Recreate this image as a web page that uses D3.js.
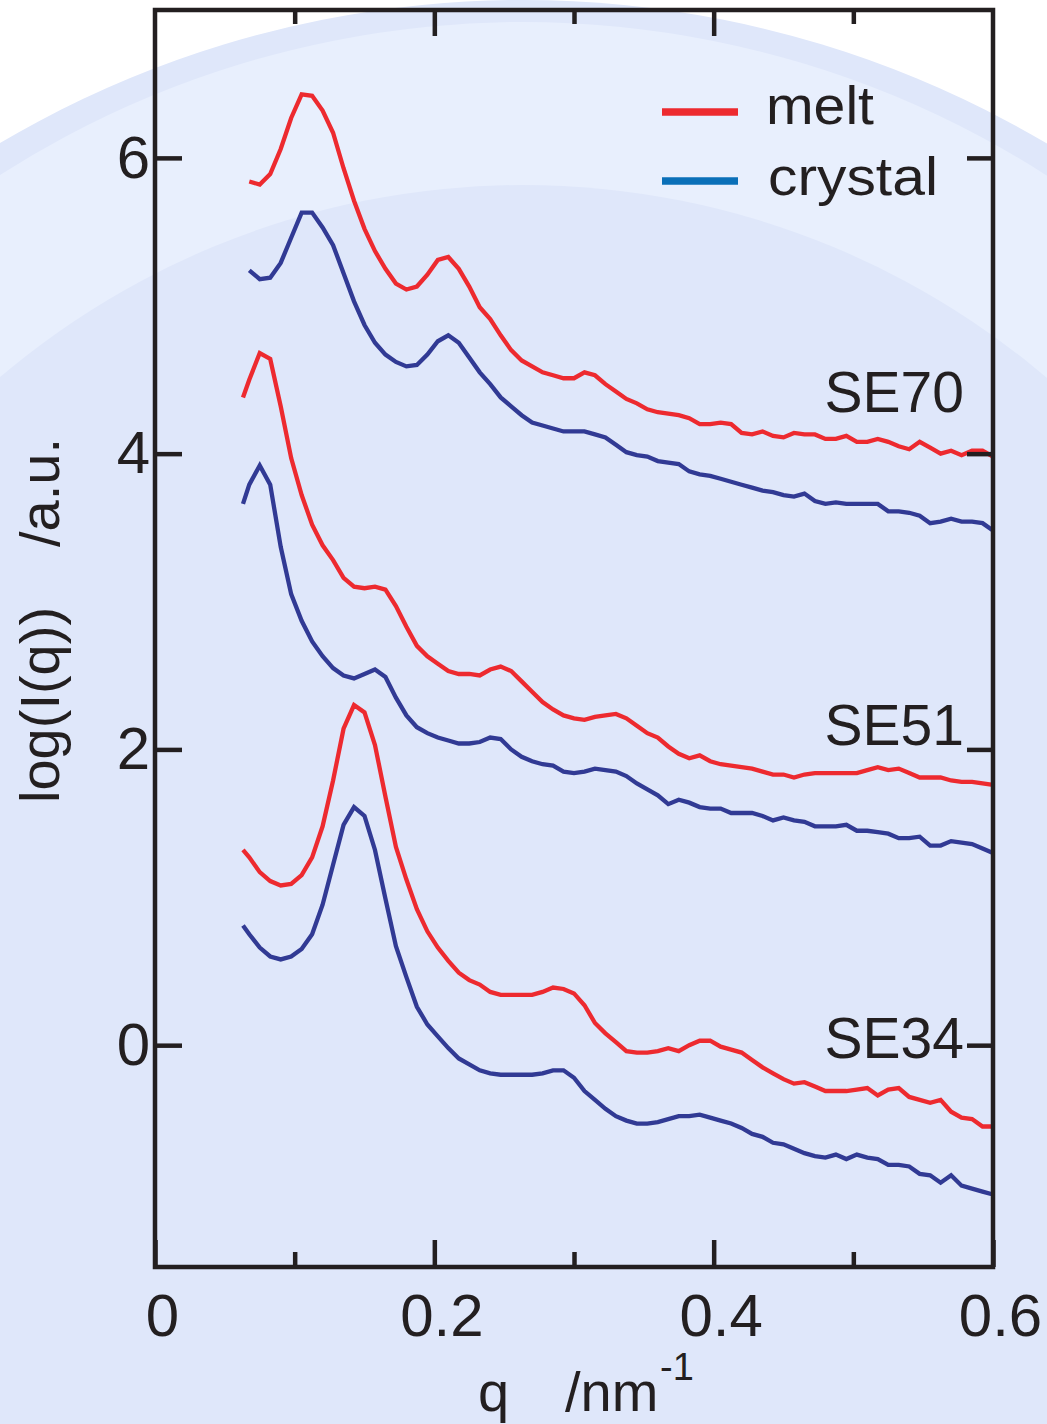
<!DOCTYPE html>
<html>
<head>
<meta charset="utf-8">
<script src="https://cdn.jsdelivr.net/npm/d3@7"></script>
<style>
  html, body { margin: 0; padding: 0; background: #ffffff; }
  svg { display: block; }
  text { font-family: "Liberation Sans", Arial, sans-serif; fill: #231f20; }
</style>
</head>
<body>
<script>
// ---------------- data ----------------
const qValues = [
  0.0630, 0.0675, 0.0750, 0.0825, 0.0900, 0.0975, 0.1050, 0.1125, 0.1200, 0.1275,
  0.1350, 0.1425, 0.1500, 0.1575, 0.1650, 0.1725, 0.1800, 0.1875, 0.1950, 0.2025,
  0.2100, 0.2175, 0.2250, 0.2325, 0.2400, 0.2475, 0.2550, 0.2625, 0.2700, 0.2775,
  0.2850, 0.2925, 0.3000, 0.3075, 0.3150, 0.3225, 0.3300, 0.3375, 0.3450, 0.3525,
  0.3600, 0.3675, 0.3750, 0.3825, 0.3900, 0.3975, 0.4050, 0.4125, 0.4200, 0.4275,
  0.4350, 0.4425, 0.4500, 0.4575, 0.4650, 0.4725, 0.4800, 0.4875, 0.4950, 0.5025,
  0.5100, 0.5175, 0.5250, 0.5325, 0.5400, 0.5475, 0.5550, 0.5625, 0.5700, 0.5775,
  0.5850, 0.5925, 0.6000
];

const se70Melt = [
  null, 5.84, 5.82, 5.89, 6.06, 6.27, 6.43, 6.42, 6.32, 6.17,
  5.93, 5.71, 5.52, 5.37, 5.25, 5.15, 5.11, 5.13, 5.21, 5.31,
  5.33, 5.25, 5.13, 4.99, 4.91, 4.80, 4.70, 4.63, 4.59, 4.55,
  4.53, 4.51, 4.51, 4.55, 4.53, 4.47, 4.42, 4.37, 4.34, 4.30,
  4.28, 4.27, 4.26, 4.24, 4.20, 4.20, 4.21, 4.20, 4.14, 4.13,
  4.15, 4.12, 4.11, 4.14, 4.13, 4.13, 4.10, 4.10, 4.12, 4.08,
  4.08, 4.10, 4.08, 4.05, 4.03, 4.08, 4.04, 4.00, 4.02, 3.99,
  4.02, 4.02, 3.98
];
const se70Crystal = [
  null, 5.24, 5.18, 5.19, 5.29, 5.46, 5.63, 5.63, 5.53, 5.41,
  5.22, 5.03, 4.87, 4.75, 4.67, 4.62, 4.59, 4.60, 4.67, 4.76,
  4.80, 4.75, 4.65, 4.55, 4.47, 4.38, 4.32, 4.26, 4.21, 4.19,
  4.17, 4.15, 4.15, 4.15, 4.13, 4.11, 4.06, 4.01, 3.99, 3.98,
  3.95, 3.94, 3.93, 3.88, 3.86, 3.85, 3.83, 3.81, 3.79, 3.77,
  3.75, 3.74, 3.72, 3.71, 3.73, 3.68, 3.66, 3.67, 3.66, 3.66,
  3.66, 3.66, 3.61, 3.61, 3.60, 3.58, 3.53, 3.54, 3.56, 3.54,
  3.54, 3.53, 3.48
];
const se51Melt = [
  4.38, 4.50, 4.68, 4.64, 4.32, 3.97, 3.72, 3.52, 3.38, 3.28,
  3.16, 3.10, 3.09, 3.10, 3.08, 2.97, 2.83, 2.70, 2.63, 2.58,
  2.53, 2.51, 2.51, 2.50, 2.54, 2.56, 2.53, 2.46, 2.39, 2.32,
  2.27, 2.23, 2.21, 2.20, 2.22, 2.23, 2.24, 2.21, 2.16, 2.11,
  2.08, 2.02, 1.97, 1.94, 1.96, 1.92, 1.90, 1.89, 1.88, 1.87,
  1.85, 1.83, 1.83, 1.81, 1.83, 1.84, 1.84, 1.84, 1.84, 1.84,
  1.86, 1.88, 1.86, 1.87, 1.84, 1.81, 1.81, 1.81, 1.79, 1.78,
  1.78, 1.77, 1.76
];
const se51Crystal = [
  3.66, 3.79, 3.92, 3.79, 3.37, 3.05, 2.87, 2.73, 2.63, 2.55,
  2.50, 2.48, 2.51, 2.54, 2.49, 2.35, 2.23, 2.15, 2.11, 2.08,
  2.06, 2.04, 2.04, 2.05, 2.08, 2.07, 2.00, 1.95, 1.92, 1.90,
  1.89, 1.85, 1.84, 1.85, 1.87, 1.86, 1.85, 1.82, 1.77, 1.73,
  1.69, 1.63, 1.66, 1.64, 1.61, 1.60, 1.60, 1.57, 1.57, 1.57,
  1.55, 1.52, 1.54, 1.52, 1.51, 1.48, 1.48, 1.48, 1.49, 1.45,
  1.45, 1.44, 1.43, 1.40, 1.40, 1.41, 1.35, 1.35, 1.38, 1.37,
  1.36, 1.33, 1.30
];
const se34Melt = [
  1.32, 1.27, 1.17, 1.11, 1.08, 1.09, 1.15, 1.27, 1.48, 1.79,
  2.14, 2.30, 2.25, 2.03, 1.68, 1.34, 1.12, 0.92, 0.77, 0.66,
  0.57, 0.49, 0.44, 0.41, 0.36, 0.34, 0.34, 0.34, 0.34, 0.36,
  0.39, 0.38, 0.35, 0.27, 0.15, 0.08, 0.02, -0.04, -0.05, -0.05,
  -0.04, -0.02, -0.04, 0.00, 0.03, 0.03, -0.01, -0.03, -0.05, -0.10,
  -0.15, -0.19, -0.23, -0.26, -0.25, -0.28, -0.31, -0.31, -0.31, -0.30,
  -0.29, -0.34, -0.30, -0.29, -0.35, -0.37, -0.39, -0.37, -0.45, -0.49,
  -0.50, -0.55, -0.55
];
const se34Crystal = [
  0.81, 0.75, 0.66, 0.60, 0.58, 0.60, 0.65, 0.75, 0.95, 1.22,
  1.49, 1.61, 1.55, 1.32, 0.99, 0.67, 0.46, 0.26, 0.14, 0.06,
  -0.02, -0.09, -0.13, -0.17, -0.19, -0.20, -0.20, -0.20, -0.20, -0.19,
  -0.17, -0.17, -0.22, -0.31, -0.37, -0.43, -0.48, -0.51, -0.53, -0.53,
  -0.52, -0.50, -0.48, -0.48, -0.47, -0.49, -0.51, -0.53, -0.56, -0.60,
  -0.62, -0.66, -0.67, -0.70, -0.73, -0.75, -0.76, -0.74, -0.77, -0.74,
  -0.76, -0.77, -0.81, -0.81, -0.82, -0.87, -0.88, -0.93, -0.88, -0.95,
  -0.97, -0.99, -1.01
];

const sampleLabels = ["SE70", "SE51", "SE34"];
const sampleLabelY = [4.28, 2.03, -0.09];
const legendLabels = ["melt", "crystal"];
const xTickLabels = [0, 0.2, 0.4, 0.6];
const xMinorTicks = [0.1, 0.3, 0.5];
const yTickLabels = [0, 2, 4, 6];

// ---------------- layout ----------------
const W = 1047, H = 1424;
const plot = { left: 155, right: 993, top: 10, bottom: 1267 };
const RED = "#ed2a2f", NAVY = "#313a94", LEG_BLUE = "#0a6fb8", INK = "#231f20";

const svg = d3.select("body").append("svg").attr("width", W).attr("height", H);

// background arcs
svg.append("rect").attr("width", W).attr("height", H).attr("fill", "#ffffff");
svg.append("circle").attr("cx", 523).attr("cy", 1028).attr("r", 1028).attr("fill", "#dfe7fa");
svg.append("circle").attr("cx", 523).attr("cy", 992).attr("r", 970).attr("fill", "#e8effd");
svg.append("circle").attr("cx", 523).attr("cy", 993).attr("r", 808).attr("fill", "#dfe7fa");

const x = d3.scaleLinear().domain([0, 0.6]).range([plot.left, plot.right]);
const y = d3.scaleLinear().domain([-1.5, 7]).range([plot.bottom, plot.top]);

// ---------------- curves ----------------
const line = d3.line()
  .defined(d => d.v !== null)
  .x(d => x(d.q))
  .y(d => y(d.v));

const series = [
  { vals: se70Melt, color: RED },
  { vals: se70Crystal, color: NAVY },
  { vals: se51Melt, color: RED },
  { vals: se51Crystal, color: NAVY },
  { vals: se34Melt, color: RED },
  { vals: se34Crystal, color: NAVY }
];
svg.append("g").selectAll("path").data(series).join("path")
  .attr("d", s => line(qValues.map((q, i) => ({ q, v: s.vals[i] === undefined ? null : s.vals[i] }))))
  .attr("fill", "none")
  .attr("stroke", s => s.color)
  .attr("stroke-width", 4.3)
  .attr("stroke-linejoin", "miter");

// ---------------- axes ----------------
function styleAxis(g) {
  g.select(".domain").remove();
  g.selectAll(".tick line").attr("stroke", INK).attr("stroke-width", 4.5);
}
const fmtX = d => d === 0 ? "0" : d3.format(".1f")(d);

svg.append("g").attr("transform", `translate(0,${plot.bottom})`)
  .call(d3.axisBottom(x).tickValues(xTickLabels).tickSizeInner(-27).tickSizeOuter(0).tickPadding(26).tickFormat(fmtX))
  .call(styleAxis)
  .call(g => g.selectAll("text").attr("font-size", 60).attr("fill", INK).attr("dx", 7)
    .style("font-family", '"Liberation Sans", Arial, sans-serif'));
svg.append("g").attr("transform", `translate(0,${plot.bottom})`)
  .call(d3.axisBottom(x).tickValues(xMinorTicks).tickSizeInner(-15).tickSizeOuter(0).tickFormat(""))
  .call(styleAxis);
svg.append("g").attr("transform", `translate(0,${plot.top})`)
  .call(d3.axisTop(x).tickValues([0.2, 0.4]).tickSizeInner(-26).tickSizeOuter(0).tickFormat(""))
  .call(styleAxis);
svg.append("g").attr("transform", `translate(0,${plot.top})`)
  .call(d3.axisTop(x).tickValues(xMinorTicks).tickSizeInner(-14).tickSizeOuter(0).tickFormat(""))
  .call(styleAxis);
svg.append("g").attr("transform", `translate(${plot.left},0)`)
  .call(d3.axisLeft(y).tickValues(yTickLabels).tickSizeInner(-27).tickSizeOuter(0).tickPadding(5).tickFormat(d3.format("d")))
  .call(styleAxis)
  .call(g => g.selectAll("text").attr("font-size", 60).attr("fill", INK)
    .style("font-family", '"Liberation Sans", Arial, sans-serif'));
svg.append("g").attr("transform", `translate(${plot.right},0)`)
  .call(d3.axisRight(y).tickValues(yTickLabels).tickSizeInner(-26).tickSizeOuter(0).tickFormat(""))
  .call(styleAxis);

// frame
svg.append("rect")
  .attr("x", plot.left).attr("y", plot.top)
  .attr("width", plot.right - plot.left).attr("height", plot.bottom - plot.top)
  .attr("fill", "none").attr("stroke", INK).attr("stroke-width", 4.5);

// ---------------- sample labels ----------------
svg.append("g").selectAll("text").data(sampleLabels).join("text")
  .attr("x", 964)
  .attr("y", (d, i) => y(sampleLabelY[i]))
  .attr("text-anchor", "end")
  .attr("font-size", 57)
  .text(d => d);

// ---------------- legend ----------------
const legendColors = [RED, LEG_BLUE];
const legendY = [112, 181];
const legendBase = [124, 195];
const legendWidths = [108, 170];
const leg = svg.append("g");
leg.selectAll("line").data(legendLabels).join("line")
  .attr("x1", 662).attr("x2", 738)
  .attr("y1", (d, i) => legendY[i]).attr("y2", (d, i) => legendY[i])
  .attr("stroke", (d, i) => legendColors[i]).attr("stroke-width", 7.5);
leg.selectAll("text").data(legendLabels).join("text")
  .attr("x", (d, i) => i === 0 ? 766 : 768)
  .attr("y", (d, i) => legendBase[i])
  .attr("font-size", 54)
  .attr("textLength", (d, i) => legendWidths[i])
  .attr("lengthAdjust", "spacingAndGlyphs")
  .text(d => d);

// ---------------- axis titles ----------------
const yt = svg.append("text")
  .attr("transform", "translate(59,803) rotate(-90)")
  .attr("font-size", 56);
yt.append("tspan").text("log(I(q))");
yt.append("tspan").attr("dx", 60).text("/a.u.");

const xt = svg.append("text").attr("y", 1411).attr("font-size", 56);
xt.append("tspan").attr("x", 478).text("q");
xt.append("tspan").attr("x", 565).text("/nm");
svg.append("text").attr("x", 660).attr("y", 1380).attr("font-size", 38).text("-1");
</script>
</body>
</html>
